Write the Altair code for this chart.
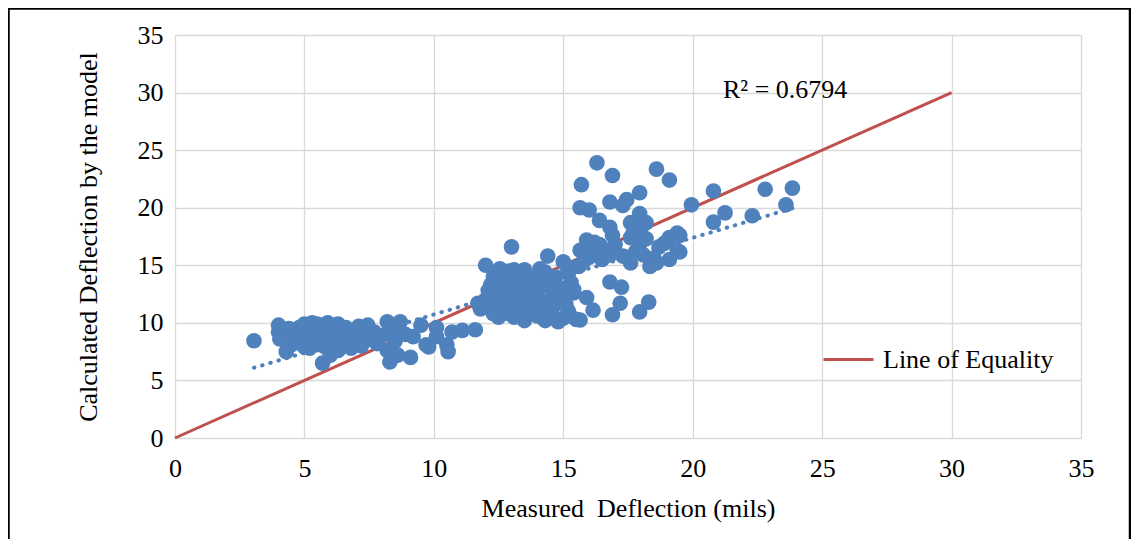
import altair as alt
import pandas as pd

# Measured vs calculated deflection (mils)
meas = [
    3.05, 4.0, 4.0, 4.05, 4.3, 4.5, 4.6, 4.8, 4.9, 5.0, 5.0, 5.1, 5.2, 5.3, 5.4, 5.5, 5.5, 5.6, 5.7, 5.7,
    5.8, 5.9, 5.9, 6.0, 6.0, 6.1, 6.2, 6.3, 6.3, 6.4, 6.5, 6.6, 6.7, 6.8, 6.9, 7.0, 7.1, 7.2, 7.3, 7.45,
    7.5, 7.8, 8.0, 8.2, 8.2, 8.3, 8.5, 8.6, 8.7, 8.9, 9.1, 9.2, 9.5, 9.7, 9.8, 10.1, 10.1, 10.5, 10.55, 10.7,
    11.1, 11.6,
    4.7, 5.3, 5.6, 6.1, 6.5, 6.8, 7.3, 5.2, 4.4, 6.0, 7.7, 8.4,
    11.7, 11.8, 12.0, 12.1, 12.2, 12.3, 12.3, 12.4, 12.55, 12.6, 12.7, 12.8, 12.9, 13.0, 13.0, 13.1, 13.2, 13.3,
    13.4, 13.5, 13.5, 13.6, 13.7, 13.8, 13.9, 14.0, 14.1, 14.2, 14.3, 14.4, 14.4, 14.5, 14.6, 14.7, 14.8, 14.9,
    15.0, 15.0, 15.1, 15.2, 15.2, 15.3, 15.5, 15.6, 12.5, 13.9, 14.6, 13.2, 12.9, 15.4, 15.8, 16.0, 14.8, 12.2,
    15.35, 15.4,
    12.0, 12.4, 12.7, 13.0, 13.3, 13.6, 13.9, 14.2, 14.5, 14.8, 15.1, 13.4, 12.6, 14.0, 13.1, 11.9, 14.3, 15.2,
    16.3, 16.9, 15.7, 18.6, 19.1, 16.8, 15.65, 17.95, 17.45, 17.3, 16.0, 16.4, 17.95, 18.2, 17.6, 16.8, 16.9,
    15.9, 17.7, 19.4, 19.1, 16.4, 17.95, 18.7, 15.65, 16.1, 16.8, 17.45, 18.1, 18.6, 19.4, 19.1, 17.6, 18.35,
    15.15, 16.8, 17.25, 17.2, 16.15, 16.9, 17.95, 18.3, 15.9, 15.65,
    16.2, 16.6, 17.0, 17.3, 17.8, 18.2, 18.5, 18.9, 16.5, 17.6, 18.0, 16.0,
    19.95, 20.8, 22.8, 23.85, 23.6, 21.25, 22.3, 20.8, 19.5, 19.5,
]
calc = [
    8.45, 9.8, 9.2, 8.6, 7.5, 8.1, 9.0, 9.6, 8.3, 9.9, 7.9, 9.2, 8.6, 10.0, 9.4, 8.1, 9.9, 8.8, 6.5, 9.6,
    7.9, 10.0, 9.0, 8.4, 7.2, 9.5, 8.7, 9.9, 7.6, 9.2, 8.2, 9.6, 8.9, 7.8, 9.3, 8.5, 9.7, 8.0, 9.1, 9.8,
    8.6, 8.2, 8.9, 10.1, 7.6, 6.6, 8.4, 7.2, 10.1, 9.0, 7.0, 8.8, 9.8, 8.1, 7.9, 9.6, 8.8, 8.1, 7.5, 9.2,
    9.35, 9.4,
    8.8, 8.9, 9.3, 8.0, 9.0, 9.0, 8.4, 7.8, 9.5, 9.8, 9.2, 9.4,
    11.7, 11.2, 15.0, 12.8, 11.5, 14.0, 10.8, 12.2, 14.7, 13.1, 11.0, 12.5, 14.5, 16.6, 11.8, 10.5, 13.5, 12.0,
    11.2, 14.6, 10.2, 12.9, 11.6, 13.9, 10.8, 12.4, 14.7, 11.3, 10.2, 15.8, 13.2, 12.0, 10.6, 14.0, 11.7, 13.0,
    15.3, 10.4, 12.3, 14.3, 11.0, 13.5, 10.3, 14.9, 10.5, 12.8, 12.7, 11.5, 10.8, 12.6, 15.4, 15.7, 10.1, 13.3,
    14.8, 12.9,
    12.0, 11.4, 13.8, 12.9, 14.1, 11.0, 11.9, 13.6, 11.1, 12.2, 11.6, 12.6, 12.0, 10.6, 14.6, 11.6, 14.4, 12.9,
    23.9, 22.8, 22.0, 23.35, 22.4, 20.5, 20.0, 21.3, 20.7, 20.2, 19.8, 18.9, 19.5, 18.7, 18.7, 18.3, 17.6,
    17.2, 17.8, 17.8, 17.4, 16.8, 16.9, 16.6, 16.3, 16.1, 15.9, 15.7, 15.9, 15.2, 16.3, 15.5, 15.2, 14.9,
    14.85, 13.55, 13.1, 11.7, 11.1, 10.7, 10.95, 11.8, 12.2, 10.25,
    17.0, 16.3, 16.8, 15.8, 16.2, 17.3, 15.6, 16.9, 15.5, 17.4, 18.2, 16.6,
    20.25, 21.45, 21.6, 21.7, 20.25, 19.55, 19.3, 18.75, 17.6, 16.15,
]

# Line of equality and linear trendline end points
equality_x = [0, 30]
equality_y = [0, 30]
equality_name = "Line of Equality"
trend_x = [3.05, 23.85]
trend_y = [6.1, 19.95]
r2_text = "R\u00b2 = 0.6794"
r2_x = 21.17
r2_y = 30.2

ticks = [0, 5, 10, 15, 20, 25, 30, 35]

FONT = "Liberation Serif"
BLUE = "#4F81BD"
RED = "#C0504D"

pts = pd.DataFrame({"x": meas, "y": calc})
eq = pd.DataFrame({"x": equality_x, "y": equality_y, "s": [equality_name] * 2})
tr = pd.DataFrame({"x": trend_x, "y": trend_y})
lab = pd.DataFrame({"x": [r2_x], "y": [r2_y], "t": [r2_text]})

xscale = alt.Scale(domain=[0, 35], nice=False, zero=False)
yscale = alt.Scale(domain=[0, 35], nice=False, zero=False)

xaxis = alt.Axis(values=ticks, title="Measured\u00a0 Deflection (mils)", grid=True,
                 gridColor="#D9D9D9", gridWidth=1.3, domain=False, ticks=False,
                 labelFont=FONT, labelFontSize=26, labelColor="black",
                 labelBaseline="middle", labelPadding=30, labelFlush=False,
                 titleFont=FONT, titleFontSize=26, titleColor="black", titleFontWeight="normal",
                 titleX=453, titleY=70, titleBaseline="middle", titleAlign="center")
yaxis = alt.Axis(values=ticks, title="Calculated Deflection by the model", grid=True,
                 gridColor="#D9D9D9", gridWidth=1.3, domain=False, ticks=False,
                 labelFont=FONT, labelFontSize=26, labelColor="black",
                 labelPadding=12, labelFlush=False, labelAlign="right", labelBaseline="middle",
                 titleFont=FONT, titleFontSize=26, titleColor="black", titleFontWeight="normal",
                 titleX=-87, titleY=201.5, titleAngle=270, titleBaseline="middle", titleAlign="center")

frame = alt.Chart(pd.DataFrame({"a": [0]})).mark_rect(
    filled=False, stroke="black", strokeWidth=2.5, clip=False
).encode(x=alt.value(-166.5), x2=alt.value(955), y=alt.value(-26.5), y2=alt.value(540))

eqline = alt.Chart(eq).mark_line(strokeWidth=3).encode(
    x=alt.X("x:Q", scale=xscale, axis=xaxis),
    y=alt.Y("y:Q", scale=yscale, axis=yaxis),
    color=alt.Color("s:N", scale=alt.Scale(domain=[equality_name], range=[RED]),
                    legend=alt.Legend(title=None, orient="none", legendX=647, legendY=298,
                                      symbolType="stroke", symbolSize=2500, symbolStrokeWidth=3,
                                      labelFont=FONT, labelFontSize=26, labelColor="black",
                                      labelOffset=8, labelLimit=0, padding=0, symbolOffset=0)),
)

points = alt.Chart(pts).mark_circle(size=245, opacity=1, color=BLUE).encode(
    x=alt.X("x:Q", scale=xscale), y=alt.Y("y:Q", scale=yscale)
)

trend = alt.Chart(tr).mark_line(color=BLUE, strokeWidth=4, strokeCap="round",
                                strokeDash=[0.5, 8]).encode(
    x=alt.X("x:Q", scale=xscale), y=alt.Y("y:Q", scale=yscale)
)

r2 = alt.Chart(lab).mark_text(font=FONT, fontSize=26, color="black", align="left",
                              baseline="middle").encode(
    x=alt.X("x:Q", scale=xscale), y=alt.Y("y:Q", scale=yscale), text="t:N"
)

chart = alt.layer(frame, eqline, points, trend, r2).properties(
    width=906, height=403,
    autosize=alt.AutoSizeParams(type="none"),
    padding={"left": 167, "top": 27, "right": 50, "bottom": 101},
).configure_view(stroke=None).configure(background="white")

chart.save("out.html", embed_options={"renderer": "svg", "actions": False})
